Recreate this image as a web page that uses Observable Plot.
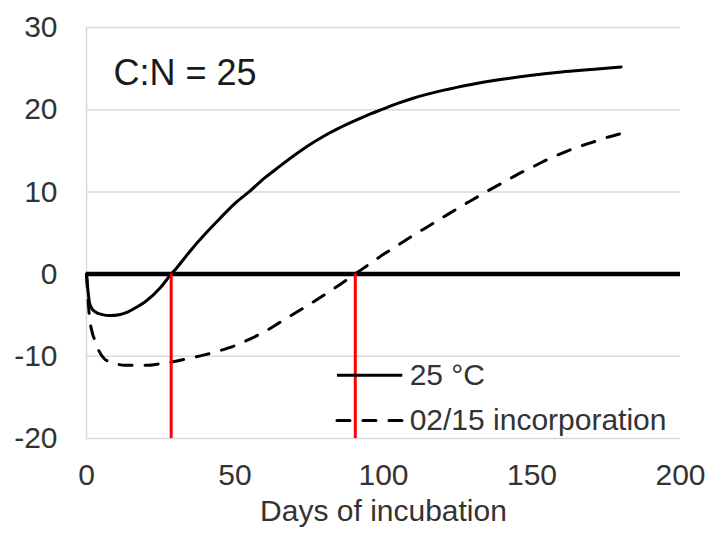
<!DOCTYPE html>
<html>
<head>
<meta charset="utf-8">
<script src="https://cdn.jsdelivr.net/npm/d3@7"></script>
<script src="https://cdn.jsdelivr.net/npm/@observablehq/plot@0.6"></script>
<style>
  html, body { margin: 0; padding: 0; background: #fff; }
</style>
</head>
<body>
<div id="chart"></div>
<script>
// ---- Data ----
const solidDays   = [0, 0.5, 1, 2, 3, 5, 8, 11, 14, 17, 20, 25, 28.5, 30, 35, 40, 45, 50, 55, 60, 65, 70, 75, 80, 85, 90, 95, 100, 105, 110, 120, 130, 140, 150, 160, 170, 180];
const solidValues = [0, -2.0, -3.5, -4.3, -4.6, -4.9, -5.05, -4.95, -4.6, -4.0, -3.3, -1.6, 0, 0.6, 2.85, 4.9, 6.8, 8.6, 10.1, 11.7, 13.1, 14.45, 15.7, 16.8, 17.75, 18.6, 19.4, 20.1, 20.8, 21.4, 22.35, 23.1, 23.7, 24.2, 24.6, 24.9, 25.2];

const dashedDays   = [0, 1, 2, 3, 4, 6, 9, 13, 20, 25, 30, 35, 40, 45, 50, 55, 60, 65, 70, 75, 80, 85, 90, 95, 100, 105, 110, 115, 120, 125, 130, 135, 140, 145, 150, 155, 160, 165, 170, 175, 180];
const dashedValues = [0, -5.2, -7.2, -8.2, -9.2, -10.3, -10.8, -11.1, -11.1, -10.9, -10.6, -10.2, -9.8, -9.3, -8.7, -7.9, -7.0, -5.9, -4.8, -3.7, -2.55, -1.35, -0.1, 1.15, 2.4, 3.55, 4.7, 5.8, 6.9, 8.0, 9.05, 10.1, 11.1, 12.1, 13.0, 13.9, 14.7, 15.4, 16.0, 16.6, 17.1];

const breakEvenDays = [28.5, 90.5];

const xTicks = [0, 50, 100, 150, 200];
const yTicks = [-20, -10, 0, 10, 20, 30];
const gridTicks = [-20, -10, 10, 20, 30];

const seriesNames = ["25 °C", "02/15 incorporation"];
const panelLabel = "C:N = 25";
const xLabel = "Days of incubation";

// Legend placement (in data units, inside the plot area)
const legendX1 = 84.5, legendX2 = 106.5, legendTextX = 108.8;
const legendY = [-12.3, -17.8];

// ---- Build tables ----
const solid = solidDays.map((d, i) => ({day: d, value: solidValues[i]}));
const dashed = dashedDays.map((d, i) => ({day: d, value: dashedValues[i]}));
const legend = seriesNames.map((name, i) => ({name, y: legendY[i]}));

const chart = Plot.plot({
  width: 721,
  height: 541,
  marginLeft: 86,
  marginRight: 41,
  marginTop: 27,
  marginBottom: 103,
  style: {fontSize: "30px", fontFamily: "'Liberation Sans', Arial, sans-serif", color: "#333", background: "#fff", overflow: "visible"},
  x: {domain: [0, 200]},
  y: {domain: [-20, 30]},
  marks: [
    Plot.ruleY(gridTicks, {stroke: "#d9d9d9", strokeWidth: 1.5}),
    Plot.ruleX([0], {stroke: "#d9d9d9", strokeWidth: 1.5}),
    Plot.ruleY([0], {stroke: "#000", strokeWidth: 4.5}),
    Plot.axisY({ticks: yTicks, tickSize: 0, tickPadding: 29, label: null, tickFormat: d => String(d)}),
    Plot.axisX({ticks: xTicks, tickSize: 0, tickPadding: 25, label: null, tickFormat: d => String(d)}),
    Plot.line(solid, {x: "day", y: "value", stroke: "#000", strokeWidth: 3, curve: "monotone-x"}),
    Plot.line(dashed, {x: "day", y: "value", stroke: "#000", strokeWidth: 3, strokeDasharray: "13,13", strokeLinecap: "round", curve: "monotone-x"}),
    Plot.ruleX(breakEvenDays, {y1: -20, y2: 0, stroke: "#ff0000", strokeWidth: 3}),
    // legend
    Plot.ruleY(legend.slice(0, 1), {y: "y", x1: legendX1, x2: legendX2, stroke: "#000", strokeWidth: 3}),
    Plot.ruleY(legend.slice(1), {y: "y", x1: legendX1, x2: legendX2, stroke: "#000", strokeWidth: 3, strokeDasharray: "13,13", strokeLinecap: "round"}),
    Plot.text(legend, {x: () => legendTextX, y: "y", text: "name", textAnchor: "start", fontSize: 30, fill: "#333"}),
    // panel label
    Plot.text([panelLabel], {frameAnchor: "top-left", dx: 27, dy: 31.5, textAnchor: "start", fontSize: 36, fill: "#1a1a1a"}),
    // x axis title
    Plot.text([xLabel], {frameAnchor: "bottom", dy: 82, fontSize: 30, fill: "#333"})
  ]
});

document.getElementById("chart").appendChild(chart);
</script>
</body>
</html>
